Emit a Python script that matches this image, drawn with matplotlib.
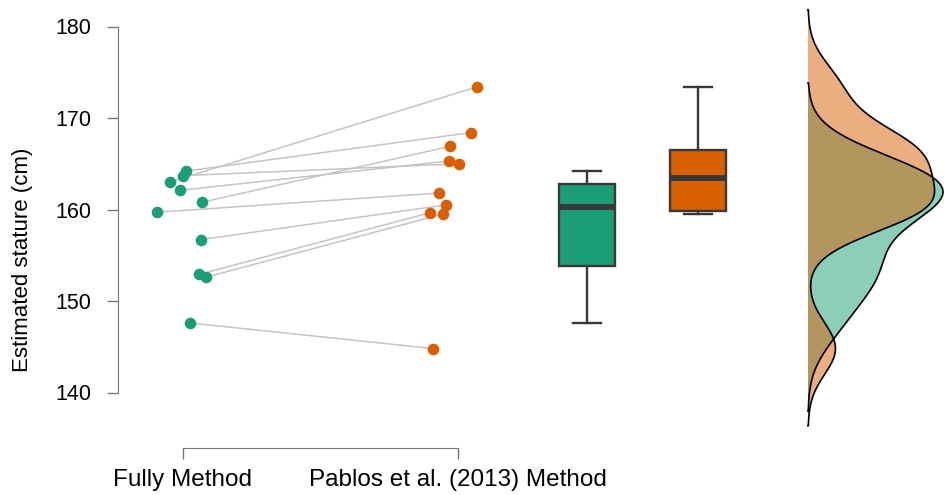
import numpy as np
import matplotlib
matplotlib.use("Agg")
import matplotlib.pyplot as plt

plt.rcParams['font.family'] = ['Liberation Sans', 'DejaVu Sans']

# paired estimates (cm), same subject at the same index
fully = [163.0, 164.2, 163.7, 162.1, 160.8, 159.7, 156.7, 152.9, 152.6, 147.6]
pablos = [173.4, 168.4, 165.0, 165.3, 166.9, 161.8, 160.5, 159.65, 159.5, 144.8]
# horizontal jitter of each point
jitter_fully = [-0.047, 0.011, 0.001, -0.011, 0.070, -0.096, 0.064, 0.058, 0.083, 0.025]
jitter_pablos = [0.068, 0.046, 0.004, -0.034, -0.029, -0.068, -0.044, -0.102, -0.056, -0.090]
method_labels = ['Fully Method', 'Pablos et al. (2013) Method']
y_ticks = [140, 150, 160, 170, 180]

green = '#1B9E77'
orange = '#D95F02'
axis_grey = '#777777'


def kde(vals):
    # gaussian density, R style: bw.nrd0 and cut = 3
    v = np.asarray(vals, dtype=float)
    q75, q25 = np.percentile(v, [75, 25])
    bw = 0.9 * min(v.std(ddof=1), (q75 - q25) / 1.34) * len(v) ** -0.2
    grid = np.linspace(v.min() - 3 * bw, v.max() + 3 * bw, 512)
    z = (grid[:, None] - v[None, :]) / bw
    dens = np.exp(-0.5 * z ** 2).sum(axis=1) / (len(v) * bw * np.sqrt(2 * np.pi))
    return grid, dens


def main():
    W, H = 944, 495
    fig = plt.figure(figsize=(W / 100, H / 100), dpi=100)

    # pixel layout
    x_left, x_right = 118, 780
    y_top, y_bot = 26.5, 392.5
    ax = fig.add_axes([x_left / W, 1 - y_bot / H, (x_right - x_left) / W, (y_bot - y_top) / H])

    px_per_unit = 275.0
    ax.set_xlim(1 - (183 - x_left) / px_per_unit, 1 + (x_right - 183) / px_per_unit)
    ax.set_ylim(140, 180)

    x1 = 1 + np.array(jitter_fully)
    x2 = 2 + np.array(jitter_pablos)

    for a, b, ya, yb in zip(x1, x2, fully, pablos):
        ax.plot([a, b], [ya, yb], color='#C4C4C4', lw=1.1, zorder=1)
    ax.scatter(x1, fully, s=70, color=green, zorder=3, linewidths=0)
    ax.scatter(x2, pablos, s=70, color=orange, zorder=3, linewidths=0)

    # boxplots
    box_pos = [1 + (587 - 183) / px_per_unit, 1 + (698 - 183) / px_per_unit]
    bp = ax.boxplot([fully, pablos], positions=box_pos, widths=0.205,
                    patch_artist=True, showfliers=False, whis=1.5,
                    capwidths=0.1, manage_ticks=False)
    edge = '#383838'
    for patch, col in zip(bp['boxes'], [green, orange]):
        patch.set_facecolor(col)
        patch.set_edgecolor(edge)
        patch.set_linewidth(1.7)
    for ln in bp['whiskers'] + bp['caps']:
        ln.set_color(edge)
        ln.set_linewidth(1.7)
    for ln in bp['medians']:
        ln.set_color(edge)
        ln.set_linewidth(4.2)

    # axes styling (R-like offset axes)
    for s in ['top', 'right']:
        ax.spines[s].set_visible(False)
    ax.spines['left'].set_bounds(140, 180)
    ax.spines['left'].set_color(axis_grey)
    ax.spines['bottom'].set_bounds(1, 2)
    ax.spines['bottom'].set_color(axis_grey)
    ax.spines['bottom'].set_position(('outward', (448.3 - y_bot) * 0.72))
    ax.set_yticks(y_ticks)
    ax.set_xticks([1, 2])
    ax.set_xticklabels(method_labels)
    ax.tick_params(axis='y', length=8, width=1, color=axis_grey, pad=11, labelsize=15.5)
    ax.tick_params(axis='x', length=8, width=1, color=axis_grey, pad=7, labelsize=17.5)

    fig.text(23 / W, 1 - 260 / H, 'Estimated stature (cm)', rotation=90,
             ha='center', va='center', fontsize=16)

    # half densities on the right
    g_grid, g_dens = kde(fully)
    o_grid, o_dens = kde(pablos)
    dax = fig.add_axes([808 / W, 1 - y_bot / H, (W - 808) / W, (y_bot - y_top) / H])
    dax.set_ylim(140, 180)
    dax.set_xlim(0, g_dens.max() * 136 / 135)
    dax.axis('off')
    for grid, dens, col in [(g_grid, g_dens, green), (o_grid, o_dens, orange)]:
        xs = np.concatenate([[0], dens, [0]])
        ys = np.concatenate([[grid[0]], grid, [grid[-1]]])
        dax.fill(xs, ys, facecolor=col, alpha=0.5, edgecolor='none', clip_on=False)
        dax.plot(xs, ys, color='black', lw=1.2, clip_on=False)

    fig.savefig('out.png', dpi=100)


if __name__ == "__main__":
    main()
